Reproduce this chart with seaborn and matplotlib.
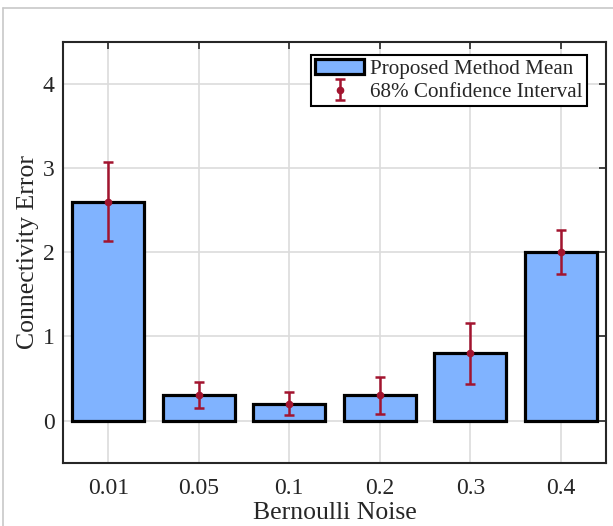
import numpy as np
import pandas as pd
import seaborn as sns
import matplotlib.pyplot as plt
from matplotlib.lines import Line2D

# valores
noise = ["0.01", "0.05", "0.1", "0.2", "0.3", "0.4"]
mean_err = [2.6, 0.3, 0.2, 0.3, 0.8, 2.0]
ci_low = [2.13, 0.15, 0.07, 0.08, 0.44, 1.74]
ci_high = [3.07, 0.46, 0.34, 0.52, 1.16, 2.26]

df = pd.DataFrame({"noise": noise, "err": mean_err})

sns.set_style("white")
plt.rcParams["font.family"] = ["Liberation Serif", "DejaVu Serif"]

fig = plt.figure(figsize=(6.13, 5.26), dpi=100)
ax = fig.add_axes([0.1028, 0.1203, 0.8858, 0.7999])

bar_color = "#80B3FF"
err_color = "#A2142F"

sns.barplot(data=df, x="noise", y="err", color=bar_color, width=0.8,
            edgecolor="black", linewidth=2.3, saturation=1, ax=ax,
            label="Proposed Method Mean", zorder=3)

x = np.arange(len(noise))
m = np.array(mean_err)
yerr = [m - np.array(ci_low), np.array(ci_high) - m]
ax.errorbar(x, m, yerr=yerr, fmt="o", color=err_color, ecolor=err_color,
            elinewidth=1.8, capsize=3.5, capthick=1.8, markersize=4.5,
            label="68% Confidence Interval", zorder=4)

ax.set_xlim(-0.5, 5.5)
ax.set_ylim(-0.5, 4.5)
ax.set_yticks([0, 1, 2, 3, 4])
ax.set_xlabel("Bernoulli Noise", fontsize=18.5, labelpad=2)
ax.set_ylabel("Connectivity Error", fontsize=18.5, labelpad=3)
ax.tick_params(axis="both", labelsize=17, direction="in", length=5,
               width=1.2, top=True, right=True, color="#262626")
ax.tick_params(axis="x", pad=11)
ax.tick_params(axis="y", pad=6)
ax.grid(True, color="#dcdcdc", linewidth=1.2, zorder=0)
ax.set_axisbelow(True)
for s in ax.spines.values():
    s.set_visible(True)
    s.set_color("#262626")
    s.set_linewidth(1.5)

leg = ax.legend(loc="upper right", fontsize=15.2, frameon=True, fancybox=False,
                edgecolor="black", framealpha=1, borderpad=0.2,
                handlelength=2.3, handletextpad=0.3, labelspacing=0.15,
                borderaxespad=0, bbox_to_anchor=(0.965, 0.969))
leg.get_frame().set_linewidth(1.5)

# moldura cinza da figura
fig.add_artist(Line2D([0.005, 0.005], [0, 0.985], color="#c8c8c8", lw=1.2))
fig.add_artist(Line2D([0.005, 1], [0.985, 0.985], color="#c8c8c8", lw=1.2))

fig.savefig("out.png", dpi=100)
